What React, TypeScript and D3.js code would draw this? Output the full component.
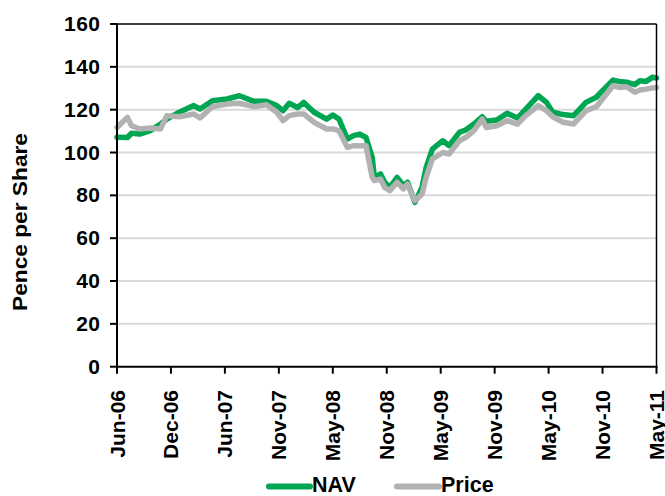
import React from "react";
import * as d3 from "d3";

const weeks = [0,5,7,11,16,21,24,30,37,40,46,53,59,66,72,77,80,83,87,90,95,101,104,107,111,114,117,120,123,124,127,129,131.5,135,138,140,143.6,147,149,152,157,160,165,168,172,176,178,183,188,193,197,203,207,210,215,220,223,226,231,234,239,242,245.6,249.6,252,255,258,260];
const nav = [107.1,107,109,108.6,110.2,113.3,115.6,118.8,121.9,120.3,124.2,125,126.5,123.9,123.9,121.9,119.5,123,121,123.4,118.8,115.6,117.5,115.6,106.3,107.9,108.6,107,97.8,88.4,90,86.1,83.7,88.4,84.5,86.1,76.7,83.7,93.1,101.6,105.5,103.2,109.4,110.5,113.3,116.7,114.6,115.2,118.3,116.1,120.3,126.5,123.4,118.8,117.7,117.2,120.3,123.4,125.8,128.9,133.8,133.2,132.8,131.7,133.5,133.2,135.1,134.8];
const price = [111.7,116.4,112.5,111,111.4,111,117.2,116.7,118,116.1,121.4,122.6,123,121.4,122.3,118.8,114.9,117.2,118,118,114.1,111,111,110.2,102.4,103.2,103.2,103.2,88.4,86.9,87.6,83.7,82.2,86.1,83,85.3,77.5,80.6,88.4,97,100,99.3,105.5,107,110.2,115.6,111.7,112.5,114.9,113.3,117.2,121.9,119.5,116.7,114.1,113.3,116.4,119.5,121.4,125,131.2,130.4,130.7,128.1,129.2,129.6,130.1,130.4];
const tickLabels = ["Jun-06","Dec-06","Jun-07","Nov-07","May-08","Nov-08","May-09","Nov-09","May-10","Nov-10","May-11"];
const tickWeeks = [0,26,52,78,104,130,156,182,208,234,260];
const yTicks = [0,20,40,60,80,100,120,140,160];

const W = 665, H = 496;
const L = 117, R = 656.5, T = 24, B = 366.7;
const font = "'Liberation Sans', Arial, sans-serif";

export default function App() {
  const x = d3.scaleLinear().domain([0, 260]).range([L, R]);
  const y = d3.scaleLinear().domain([0, 160]).range([B, T]);
  const line = (vals: number[]) =>
    d3.line<number>().x((_, i) => x(weeks[i])).y((v) => y(v))(vals) || "";
  return (
    <svg width={W} height={H} style={{ position: "absolute", left: 0, top: 0, background: "#fff" }}>
      <rect x={0} y={0} width={W} height={H} fill="#fff" />
      {yTicks.filter((t) => t > 0 && t < 160).map((t) => (
        <line key={t} x1={L} x2={R} y1={y(t)} y2={y(t)} stroke="#d9d9d9" strokeWidth={2} />
      ))}
      <path d={line(nav)} fill="none" stroke="#00a651" strokeWidth={5.5} strokeLinejoin="round" strokeLinecap="round" />
      <path d={line(price)} fill="none" stroke="#b2b2b2" strokeWidth={5.5} strokeLinejoin="round" strokeLinecap="round" />
      {/* frame */}
      <line x1={L} x2={R} y1={T} y2={T} stroke="#000" strokeWidth={1.5} />
      <line x1={R} x2={R} y1={T} y2={B} stroke="#000" strokeWidth={1.5} />
      <line x1={L} x2={L} y1={T} y2={B + 1} stroke="#000" strokeWidth={2} />
      <line x1={L} x2={R + 1} y1={B} y2={B} stroke="#000" strokeWidth={2} />
      {yTicks.map((t) => (
        <g key={t}>
          <line x1={L - 7} x2={L} y1={y(t)} y2={y(t)} stroke="#000" strokeWidth={2} />
          <text x={100.5} y={y(t) + 7} textAnchor="end" fontFamily={font} fontWeight="bold" fontSize={21} letterSpacing={0.5}>
            {t}
          </text>
        </g>
      ))}
      {tickWeeks.map((w, i) => (
        <g key={w}>
          <line x1={x(w)} x2={x(w)} y1={B} y2={B + 7} stroke="#000" strokeWidth={2} />
          <text
            transform={`translate(${x(w) + 7.5},${390}) rotate(-90)`}
            textAnchor="end"
            fontFamily={font}
            fontWeight="bold"
            fontSize={21}
          >
            {tickLabels[i]}
          </text>
        </g>
      ))}
      <text
        transform={`translate(27,222) rotate(-90)`}
        textAnchor="middle"
        fontFamily={font}
        fontWeight="bold"
        fontSize={20.5}
        textLength={178}
        lengthAdjust="spacingAndGlyphs"
      >
        Pence per Share
      </text>
      {/* legend */}
      <line x1={269} x2={310} y1={486.5} y2={486.5} stroke="#00a651" strokeWidth={6} strokeLinecap="round" />
      <text x={312} y={492} fontFamily={font} fontWeight="bold" fontSize={21.5}>NAV</text>
      <line x1={397} x2={439} y1={486.5} y2={486.5} stroke="#b2b2b2" strokeWidth={6} strokeLinecap="round" />
      <text x={441} y={492} fontFamily={font} fontWeight="bold" fontSize={21.5}>Price</text>
    </svg>
  );
}
